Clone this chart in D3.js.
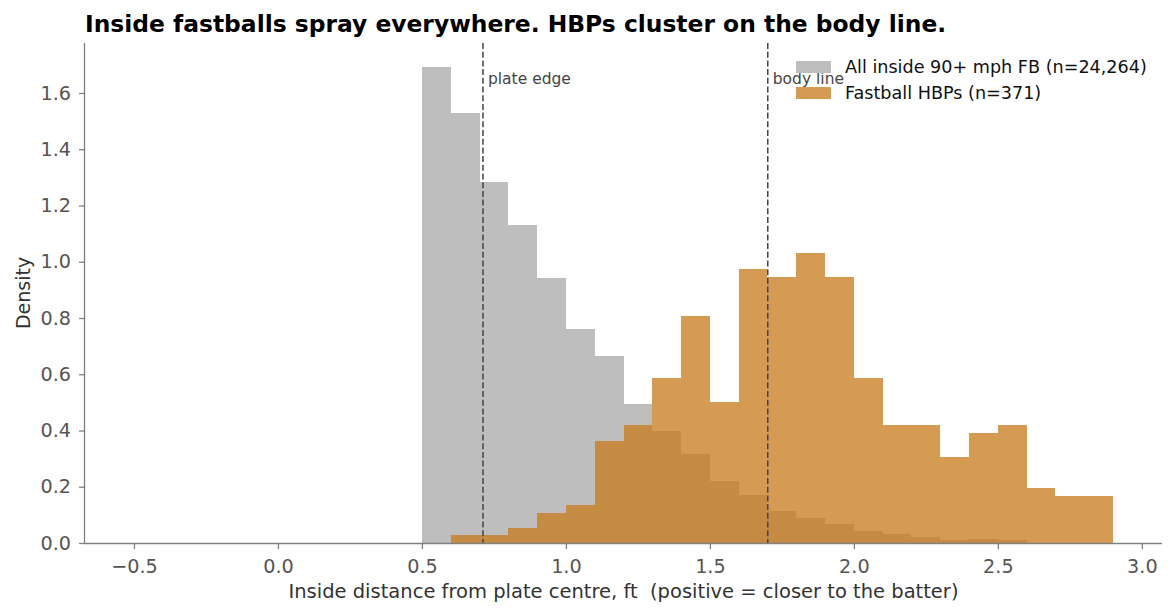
<!DOCTYPE html>
<html>
<head>
<meta charset="utf-8">
<script src="https://cdn.jsdelivr.net/npm/d3@7"></script>
<style>
  body { margin: 0; background: #fff; }
  svg { display: block; font-family: "DejaVu Sans", sans-serif; }
</style>
</head>
<body>
<svg id="chart" width="1175" height="616"></svg>
<script>
// histogram bins, width 0.1 ft (lower edges)
const allBins = [0.5, 0.6, 0.7, 0.8, 0.9, 1.0, 1.1, 1.2, 1.3, 1.4, 1.5, 1.6, 1.7, 1.8, 1.9, 2.0, 2.1, 2.2, 2.3, 2.4, 2.5];
const allDensity = [1.692, 1.529, 1.284, 1.131, 0.942, 0.761, 0.665, 0.494, 0.398, 0.316, 0.220, 0.171, 0.114, 0.089, 0.068, 0.043, 0.032, 0.021, 0.011, 0.014, 0.010];

const hbpBins = [0.6, 0.7, 0.8, 0.9, 1.0, 1.1, 1.2, 1.3, 1.4, 1.5, 1.6, 1.7, 1.8, 1.9, 2.0, 2.1, 2.2, 2.3, 2.4, 2.5, 2.6, 2.7, 2.8];
const hbpDensity = [0.027, 0.027, 0.054, 0.108, 0.135, 0.363, 0.420, 0.587, 0.807, 0.501, 0.974, 0.946, 1.031, 0.946, 0.587, 0.420, 0.420, 0.306, 0.391, 0.420, 0.196, 0.167, 0.167];
const binWidth = 0.1;

const refLines = [
  {x: 0.712, label: "plate edge"},
  {x: 1.701, label: "body line"}
];
const legendLabels = ["All inside 90+ mph FB (n=24,264)", "Fastball HBPs (n=371)"];
const xTicks = [-0.5, 0.0, 0.5, 1.0, 1.5, 2.0, 2.5, 3.0];
const yTicks = [0.0, 0.2, 0.4, 0.6, 0.8, 1.0, 1.2, 1.4, 1.6];

const grey = "#bebebe";
const orange = "#c77a18";

const margin = {top: 43, right: 13, bottom: 73, left: 85};
const W = 1175, H = 616;
const width = W - margin.left - margin.right;
const height = H - margin.top - margin.bottom;

const svg = d3.select("#chart");
const g = svg.append("g").attr("transform", `translate(${margin.left},${margin.top})`);

// matplotlib style 5% padding
const x = d3.scaleLinear().domain([-0.67, 3.07]).range([0, width]);
const y = d3.scaleLinear().domain([0, 1.7777]).range([height, 0]);

// bars
g.append("g").selectAll("rect")
  .data(allBins.map((b, i) => ({x0: b, v: allDensity[i]})))
  .join("rect")
  .attr("x", d => x(d.x0))
  .attr("width", d => x(d.x0 + binWidth) - x(d.x0))
  .attr("y", d => y(d.v))
  .attr("height", d => y(0) - y(d.v))
  .attr("fill", grey)
  .attr("shape-rendering", "crispEdges");

g.append("g").selectAll("rect")
  .data(hbpBins.map((b, i) => ({x0: b, v: hbpDensity[i]})))
  .join("rect")
  .attr("x", d => x(d.x0))
  .attr("width", d => x(d.x0 + binWidth) - x(d.x0))
  .attr("y", d => y(d.v))
  .attr("height", d => y(0) - y(d.v))
  .attr("fill", orange)
  .attr("fill-opacity", 0.75)
  .attr("shape-rendering", "crispEdges");

// reference lines
refLines.forEach(r => {
  g.append("line")
    .attr("x1", x(r.x)).attr("x2", x(r.x))
    .attr("y1", 0).attr("y2", height)
    .attr("stroke", "#444")
    .attr("stroke-width", 1.5)
    .attr("stroke-dasharray", "6,2.7");
  g.append("text")
    .attr("x", x(r.x) + 5)
    .attr("y", 41)
    .attr("fill", "#444")
    .style("font-size", "15.5px")
    .text(r.label);
});

// axes
const xAxis = g.append("g")
  .attr("transform", `translate(0,${height})`)
  .call(d3.axisBottom(x).tickValues(xTicks).tickSize(6)
    .tickFormat(d => d < 0 ? "\u2212" + d3.format(".1f")(-d) : d3.format(".1f")(d)));
const yAxis = g.append("g")
  .call(d3.axisLeft(y).tickValues(yTicks).tickSize(6).tickPadding(8).tickFormat(d3.format(".1f")));

[xAxis, yAxis].forEach(a => {
  a.select(".domain").attr("stroke", "#808080").attr("stroke-width", 1.3);
  a.selectAll(".tick line").attr("stroke", "#808080").attr("stroke-width", 1.3);
  a.selectAll(".tick text").attr("fill", "#555").style("font-size", "19.2px")
    .style("font-family", "DejaVu Sans");
});
xAxis.select(".domain").attr("d", `M0,0.5H${width}`);
yAxis.select(".domain").attr("d", `M-0.5,${height}V0`);
xAxis.selectAll(".tick text").attr("y", 30).attr("dy", 0);

// axis labels
svg.append("text")
  .attr("x", margin.left + width / 2)
  .attr("y", 598)
  .attr("text-anchor", "middle")
  .attr("fill", "#333")
  .style("font-size", "19.5px")
  .style("white-space", "pre")
  .text("Inside distance from plate centre, ft  (positive = closer to the batter)");

svg.append("text")
  .attr("transform", `translate(30,${margin.top + height / 2}) rotate(-90)`)
  .attr("text-anchor", "middle")
  .attr("fill", "#333")
  .style("font-size", "19px")
  .text("Density");

// title
svg.append("text")
  .attr("x", margin.left)
  .attr("y", 32)
  .attr("font-weight", "bold")
  .attr("fill", "#000")
  .style("font-size", "23.4px")
  .text("Inside fastballs spray everywhere. HBPs cluster on the body line.");

// legend
const legend = svg.append("g").attr("transform", "translate(796,61)");
legendLabels.forEach((lab, i) => {
  const row = legend.append("g").attr("transform", `translate(0,${i * 26})`);
  row.append("rect")
    .attr("width", 35).attr("height", 12)
    .attr("fill", i === 0 ? grey : orange)
    .attr("fill-opacity", i === 0 ? 1 : 0.75);
  row.append("text")
    .attr("x", 49).attr("y", 6)
    .attr("dy", "0.35em")
    .attr("fill", "#111")
    .style("font-size", "17.6px")
    .text(lab);
});
</script>
</body>
</html>
